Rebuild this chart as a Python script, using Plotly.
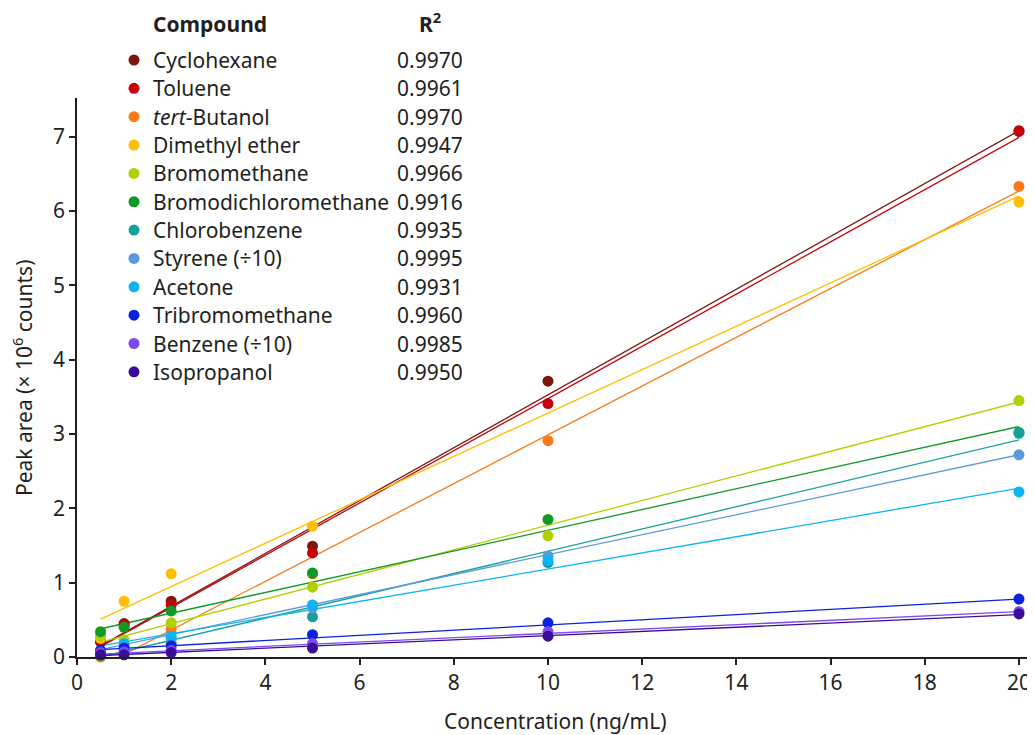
import plotly.graph_objects as go

# ---------------- data ----------------
concentration = [0.5, 1, 2, 5, 10, 20]

compounds = ["Cyclohexane", "Toluene", "<i>tert</i>-Butanol", "Dimethyl ether",
             "Bromomethane", "Bromodichloromethane", "Chlorobenzene",
             "Styrene (÷10)", "Acetone", "Tribromomethane", "Benzene (÷10)",
             "Isopropanol"]
r_squared = ["0.9970", "0.9961", "0.9970", "0.9947", "0.9966", "0.9916",
             "0.9935", "0.9995", "0.9931", "0.9960", "0.9985", "0.9950"]

cyclohexane = [0.20, 0.45, 0.75, 1.49, 3.71, 7.08]
toluene = [0.22, 0.43, 0.70, 1.40, 3.41, 7.07]
tert_butanol = [0.00, 0.05, 0.37, 1.12, 2.91, 6.33]
dimethyl_ether = [0.25, 0.75, 1.12, 1.76, None, 6.12]
bromomethane = [0.28, 0.23, 0.46, 0.94, 1.63, 3.45]
bromodichloromethane = [0.34, 0.40, 0.62, 1.13, 1.85, 3.02]
chlorobenzene = [0.02, 0.10, 0.18, 0.54, 1.27, 3.01]
styrene = [0.05, 0.15, 0.25, 0.66, 1.36, 2.72]
acetone = [0.08, 0.18, 0.28, 0.70, 1.30, 2.22]
tribromomethane = [0.09, 0.12, 0.15, 0.30, 0.46, 0.78]
benzene = [0.06, 0.07, 0.09, 0.18, 0.34, 0.61]
isopropanol = [0.03, 0.03, 0.06, 0.12, 0.28, 0.58]

# fitted calibration lines, read at the lowest and highest concentration
fit_start = [0.15, 0.14, -0.13, 0.51, 0.20, 0.38, 0.00, 0.10, 0.15, 0.10, 0.04, 0.02]
fit_end = [7.08, 6.99, 6.27, 6.20, 3.43, 3.10, 2.92, 2.72, 2.27, 0.78, 0.61, 0.57]

colors = ["#7a1a0e", "#c8000a", "#f97a17", "#ffbf00", "#b2d000", "#0f9a26",
          "#16a09a", "#5c9bdb", "#0cb5f0", "#0a21e0", "#7d4af0", "#3a0d96"]

series = [cyclohexane, toluene, tert_butanol, dimethyl_ether, bromomethane,
          bromodichloromethane, chlorobenzene, styrene, acetone,
          tribromomethane, benzene, isopropanol]

# ---------------- figure ----------------
FONT = "Noto Sans"
TXT = "#231f20"
fig = go.Figure()

for name, fs, fe, c in zip(compounds, fit_start, fit_end, colors):
    fig.add_trace(go.Scatter(
        x=[concentration[0], concentration[-1]], y=[fs, fe], mode="lines",
        line=dict(color=c, width=1.3), showlegend=False, hoverinfo="skip"))

for name, ys, c in zip(compounds, series, colors):
    fig.add_trace(go.Scatter(
        x=concentration, y=ys, mode="markers", name=name,
        marker=dict(color=c, size=11, line=dict(width=0)),
        showlegend=False, cliponaxis=False))

# page has an 8px body margin: lay out in screen pixels, then offset
OFF = 8
W, H = 1035 - OFF, 735 - OFF
L, R = 77 - OFF, 0
T = 98 - OFF
B = H - (657 - OFF)
pw, ph = W - L - R, H - T - B


def px_x(px):
    return (px - OFF - L) / pw


def px_y(py):
    return (H - B - (py - OFF)) / ph


annotations = []
shapes = []
# legend header
annotations.append(dict(x=px_x(151), y=px_y(24), xref="paper", yref="paper",
                        text="<b>Compound</b>", showarrow=False,
                        xanchor="left", yanchor="middle",
                        font=dict(family=FONT, size=21, color=TXT)))
annotations.append(dict(x=px_x(430), y=px_y(22), xref="paper", yref="paper",
                        text="<b>R<sup>2</sup></b>", showarrow=False,
                        xanchor="center", yanchor="middle",
                        font=dict(family=FONT, size=21, color=TXT)))
for i, (name, r2, c) in enumerate(zip(compounds, r_squared, colors)):
    yy = 60 + 28.35 * i
    shapes.append(dict(type="circle", xref="paper", yref="paper",
                       xsizemode="pixel", ysizemode="pixel",
                       xanchor=px_x(134), yanchor=px_y(yy),
                       x0=-5.5, x1=5.5, y0=-5.5, y1=5.5,
                       fillcolor=c, line=dict(width=0)))
    annotations.append(dict(x=px_x(151), y=px_y(yy), xref="paper", yref="paper",
                            text=name, showarrow=False, xanchor="left",
                            yanchor="middle",
                            font=dict(family=FONT, size=21, color=TXT)))
    annotations.append(dict(x=px_x(430), y=px_y(yy), xref="paper", yref="paper",
                            text=r2, showarrow=False, xanchor="center",
                            yanchor="middle",
                            font=dict(family=FONT, size=21, color=TXT)))

# axis titles
annotations.append(dict(x=px_x(555), y=px_y(721), xref="paper", yref="paper",
                        text="Concentration (ng/mL)", showarrow=False,
                        xanchor="center", yanchor="middle",
                        font=dict(family=FONT, size=21, color=TXT)))
annotations.append(dict(x=px_x(22), y=px_y(378), xref="paper", yref="paper",
                        text="Peak area (× 10<sup>6</sup> counts)", showarrow=False,
                        textangle=-90, xanchor="center", yanchor="middle",
                        font=dict(family=FONT, size=21, color=TXT)))

fig.update_layout(
    width=W, height=H,
    margin=dict(l=L, r=R, t=T, b=B, pad=0),
    paper_bgcolor="white", plot_bgcolor="white",
    font=dict(family=FONT, size=21, color=TXT),
    annotations=annotations, shapes=shapes,
    xaxis=dict(range=[0, 20.34], tickmode="linear", tick0=0, dtick=2,
               showgrid=False, zeroline=False, showline=True,
               linecolor="#231f20", linewidth=1.5, ticks="outside",
               ticklen=6, tickwidth=1.5, tickcolor="#231f20",
               tickfont=dict(family=FONT, size=21, color=TXT)),
    yaxis=dict(range=[0, 7.52], tickmode="linear", tick0=0, dtick=1,
               showgrid=False, zeroline=False, showline=True,
               linecolor="#231f20", linewidth=1.5, ticks="outside",
               ticklen=6, tickwidth=1.5, tickcolor="#231f20",
               tickfont=dict(family=FONT, size=21, color=TXT)),
)

fig.write_html("out.html")
